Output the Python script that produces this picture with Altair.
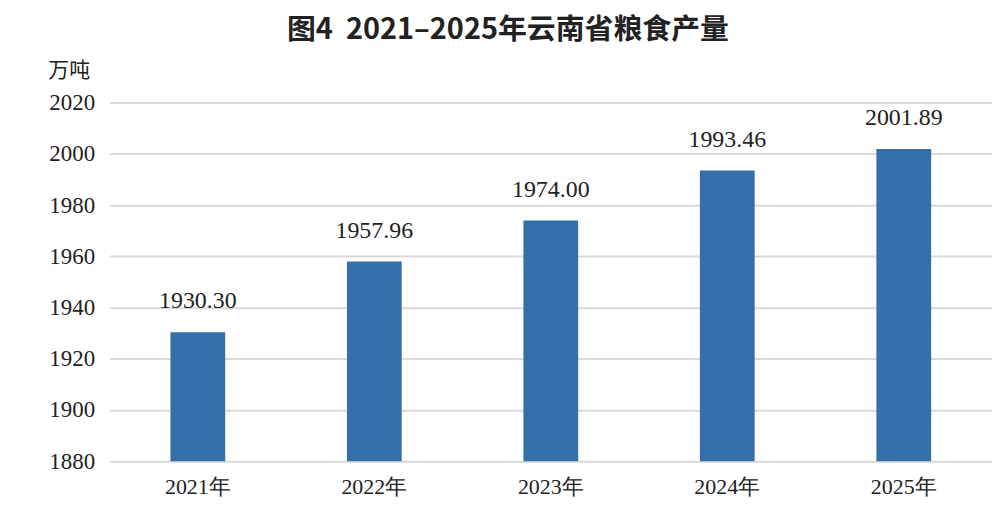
import altair as alt
import pandas as pd

years = ["2021年", "2022年", "2023年", "2024年", "2025年"]
values = [1930.30, 1957.96, 1974.00, 1993.46, 2001.89]
labels = ["1930.30", "1957.96", "1974.00", "1993.46", "2001.89"]
base_value = [1880] * 5

df = pd.DataFrame({"year": years, "value": values, "label": labels, "base": base_value})

serif = "Liberation Serif"
cjk = "Noto Sans CJK SC"

base = alt.Chart(df).encode(
    x=alt.X("year:N", sort=years, title=None,
            scale=alt.Scale(paddingInner=0.69, paddingOuter=0.345),
            axis=alt.Axis(labelAngle=0, labelFont=serif, labelFontSize=22,
                          labelColor="#222222", domain=False, ticks=False,
                          labelPadding=15, grid=False)),
    y=alt.Y("value:Q", title="万吨",
            scale=alt.Scale(domain=[1880, 2020], zero=False, nice=False),
            axis=alt.Axis(values=list(range(1880, 2021, 20)), format="d",
                          labelFont=serif,
                          labelFontSize=23, labelColor="#222222", domain=False,
                          ticks=False, labelPadding=15, gridColor="#d9d9d9",
                          gridWidth=2, titleAngle=0, titleFont=cjk,
                          titleFontSize=21, titleFontWeight="normal",
                          titleColor="#222222", titleX=-62, titleY=-32,
                          titleAlign="left", titleBaseline="middle")),
)

bars = base.mark_bar(color="#356fa9", size=55).encode(y2="base:Q")
text = base.mark_text(baseline="bottom", dy=-19, font=serif, fontSize=24,
                      color="#222222").encode(text="label:N")

chart = (bars + text).properties(
    width=886, height=360,
    autosize=alt.AutoSizeParams(type="none"),
    padding={"left": 102, "top": 94, "right": 0, "bottom": 40},
    title=alt.Title("图4\u00a0\u00a02021–2025年云南省粮食产量", font=cjk, fontSize=29,
                    fontWeight="bold", color="#222222", dx=-43, offset=15),
).configure_view(stroke=None)

chart.save("out.html", embed_options={"renderer": "svg", "actions": False})
